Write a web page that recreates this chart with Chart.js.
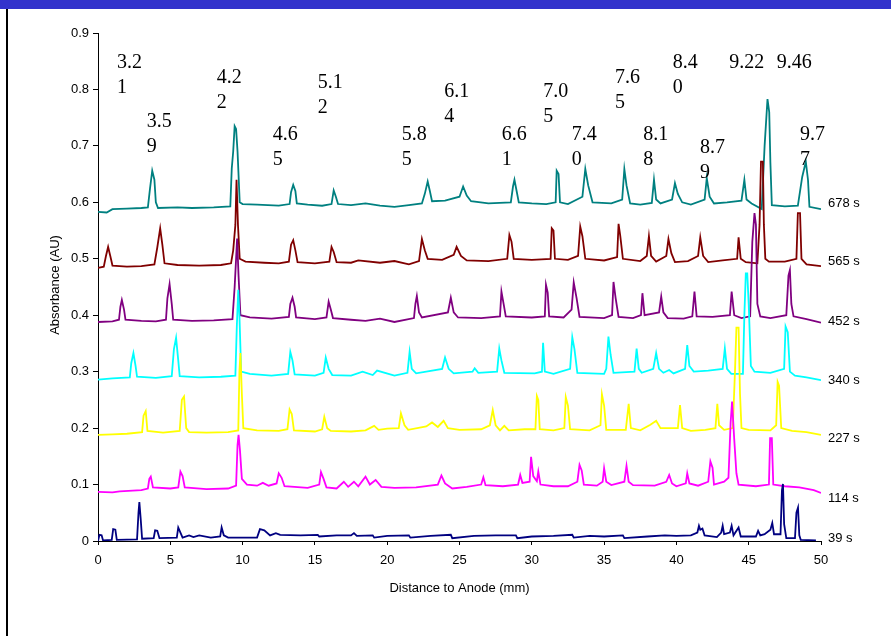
<!DOCTYPE html>
<html>
<head>
<meta charset="utf-8">
<script src="https://cdn.jsdelivr.net/npm/chart.js@4.4.1/dist/chart.umd.min.js"></script>
<style>
  html, body { margin: 0; padding: 0; background: #fff; }
  #wrap { position: relative; width: 891px; height: 636px; }
</style>
</head>
<body>
<div id="wrap"><canvas id="ief"></canvas></div>
<script>
// traces, [distance mm, absorbance AU]
const trace39 = [[0,0.000],[0.1,0.011],[0.25,0.010],[0.35,0.001],[0.95,0.002],[1.05,0.021],[1.2,0.020],[1.3,0.002],[2.7,0.003],[2.8,0.050],[2.86,0.069],[2.95,0.040],[3.05,0.004],[3.85,0.005],[3.95,0.019],[4.1,0.018],[4.25,0.005],[5.45,0.006],[5.55,0.024],[5.7,0.015],[5.85,0.006],[6.3,0.010],[6.6,0.007],[7.0,0.010],[7.8,0.006],[8.45,0.008],[8.55,0.024],[8.7,0.010],[9.0,0.006],[11.0,0.006],[11.2,0.021],[11.5,0.019],[11.9,0.010],[12.3,0.014],[12.6,0.011],[14,0.010],[15.2,0.011],[15.3,0.008],[16.5,0.010],[17.5,0.010],[17.7,0.014],[17.9,0.009],[19.0,0.010],[19.1,0.006],[20,0.009],[21.5,0.010],[21.6,0.006],[23,0.009],[24.4,0.011],[24.5,0.005],[26,0.009],[27.5,0.010],[28.9,0.010],[29.0,0.005],[30,0.008],[31.5,0.009],[32.8,0.011],[32.9,0.006],[34,0.009],[35,0.008],[36.3,0.010],[36.4,0.005],[38,0.008],[39.2,0.010],[40,0.009],[41.0,0.010],[41.45,0.015],[41.56,0.027],[41.65,0.020],[41.8,0.022],[41.95,0.010],[42.8,0.007],[43.1,0.015],[43.2,0.027],[43.3,0.012],[43.7,0.015],[43.82,0.027],[43.95,0.010],[44.3,0.024],[44.45,0.008],[45.5,0.008],[45.65,0.018],[45.8,0.010],[46.1,0.012],[46.5,0.020],[46.63,0.032],[46.75,0.012],[47.2,0.012],[47.3,0.090],[47.37,0.101],[47.45,0.030],[47.6,0.005],[48.2,0.005],[48.3,0.050],[48.41,0.059],[48.5,0.010],[48.6,0.002],[49.65,0.001]];

const trace114 = [[0,0.087],[1.0,0.086],[1.5,0.088],[3.0,0.090],[3.45,0.093],[3.55,0.110],[3.65,0.114],[3.8,0.095],[5.0,0.093],[5.55,0.095],[5.7,0.123],[5.85,0.115],[6.0,0.095],[7.5,0.092],[9.0,0.093],[9.55,0.098],[9.65,0.170],[9.72,0.188],[9.82,0.160],[9.95,0.110],[10.3,0.100],[11.0,0.098],[11.4,0.103],[11.8,0.098],[12.35,0.102],[12.5,0.120],[12.7,0.112],[12.9,0.097],[14.5,0.094],[15.3,0.100],[15.42,0.122],[15.6,0.110],[15.8,0.095],[16.5,0.093],[17.0,0.105],[17.3,0.096],[17.7,0.105],[18.0,0.097],[18.5,0.114],[18.8,0.100],[19.2,0.108],[19.6,0.096],[20.5,0.094],[22.0,0.095],[23.5,0.100],[23.75,0.116],[24.0,0.102],[24.5,0.093],[25.5,0.096],[26.5,0.100],[26.65,0.113],[26.8,0.099],[28.0,0.097],[29.05,0.100],[29.2,0.117],[29.35,0.103],[29.85,0.105],[29.95,0.149],[30.1,0.115],[30.35,0.106],[30.45,0.123],[30.6,0.100],[31.5,0.097],[32.5,0.097],[33.15,0.105],[33.3,0.135],[33.45,0.125],[33.6,0.100],[34.5,0.098],[34.9,0.105],[35.0,0.129],[35.15,0.105],[35.5,0.099],[36.4,0.105],[36.55,0.133],[36.7,0.105],[37.0,0.099],[38.5,0.098],[39.3,0.105],[39.5,0.117],[39.7,0.102],[40.0,0.097],[40.65,0.102],[40.75,0.120],[40.9,0.102],[41.5,0.098],[42.2,0.105],[42.35,0.141],[42.5,0.130],[42.6,0.100],[43.3,0.105],[43.6,0.112],[43.75,0.210],[43.85,0.247],[44.0,0.180],[44.15,0.120],[44.3,0.100],[45.5,0.097],[46.4,0.100],[46.48,0.182],[46.6,0.182],[46.7,0.100],[47.5,0.097],[48.5,0.095],[49.5,0.090],[50,0.085]];

const trace227 = [[0,0.188],[1.0,0.189],[2.0,0.190],[3.05,0.193],[3.15,0.222],[3.3,0.230],[3.42,0.195],[4.5,0.192],[5.65,0.195],[5.8,0.250],[5.95,0.256],[6.1,0.200],[6.3,0.193],[7.5,0.192],[9.0,0.193],[9.7,0.196],[9.78,0.300],[9.85,0.333],[9.95,0.260],[10.05,0.200],[11,0.196],[12.5,0.195],[13.1,0.198],[13.25,0.233],[13.4,0.225],[13.55,0.196],[15.0,0.194],[15.5,0.198],[15.65,0.220],[15.85,0.200],[16.1,0.195],[17.5,0.194],[18.5,0.196],[19.1,0.204],[19.4,0.197],[20.0,0.199],[20.8,0.200],[20.95,0.226],[21.2,0.205],[21.45,0.197],[22.7,0.203],[23.1,0.210],[23.5,0.202],[23.9,0.213],[24.2,0.200],[25.0,0.197],[26.5,0.198],[27.1,0.205],[27.3,0.232],[27.5,0.205],[27.8,0.196],[28.1,0.204],[28.4,0.196],[29.5,0.198],[30.25,0.198],[30.35,0.257],[30.45,0.250],[30.55,0.198],[31.5,0.196],[32.25,0.200],[32.35,0.255],[32.5,0.240],[32.65,0.198],[34.0,0.196],[34.75,0.205],[34.85,0.260],[35.0,0.240],[35.15,0.197],[36.5,0.197],[36.7,0.243],[36.85,0.200],[37.5,0.196],[38.2,0.206],[38.6,0.213],[38.9,0.200],[40.1,0.200],[40.25,0.241],[40.4,0.200],[41.0,0.195],[42.0,0.197],[42.7,0.200],[42.83,0.243],[42.95,0.205],[43.3,0.197],[43.9,0.200],[44.05,0.300],[44.15,0.378],[44.3,0.378],[44.4,0.260],[44.5,0.200],[45,0.197],[46.5,0.196],[46.9,0.205],[47.0,0.282],[47.1,0.275],[47.25,0.200],[48.0,0.195],[49.0,0.193],[50,0.188]];

const trace340 = [[0,0.286],[1.0,0.288],[2.2,0.290],[2.3,0.315],[2.45,0.333],[2.6,0.310],[2.7,0.291],[4.0,0.289],[5.1,0.292],[5.25,0.340],[5.4,0.360],[5.55,0.320],[5.65,0.292],[7.0,0.290],[8.5,0.291],[9.5,0.293],[9.6,0.380],[9.7,0.445],[9.78,0.400],[9.9,0.300],[10.5,0.296],[12.0,0.293],[13.15,0.296],[13.3,0.335],[13.45,0.320],[13.6,0.295],[15.0,0.293],[15.6,0.298],[15.75,0.325],[15.95,0.305],[16.2,0.294],[17.5,0.293],[18.3,0.300],[19.0,0.294],[19.3,0.302],[20.5,0.293],[21.4,0.298],[21.55,0.335],[21.7,0.305],[22.0,0.297],[23.8,0.305],[24.0,0.325],[24.25,0.305],[24.6,0.297],[25.9,0.300],[26.05,0.306],[26.3,0.298],[27.6,0.300],[27.75,0.341],[27.9,0.320],[28.1,0.298],[30.2,0.297],[30.7,0.300],[30.78,0.351],[30.9,0.300],[31.5,0.296],[32.65,0.305],[32.8,0.361],[32.95,0.340],[33.15,0.298],[35.0,0.296],[35.15,0.305],[35.3,0.362],[35.45,0.330],[35.65,0.298],[37.1,0.300],[37.25,0.341],[37.4,0.305],[37.6,0.298],[38.4,0.305],[38.6,0.333],[38.8,0.305],[39.1,0.298],[39.5,0.303],[39.8,0.297],[40.6,0.305],[40.75,0.347],[40.9,0.310],[41.2,0.300],[42.2,0.302],[43.2,0.305],[43.35,0.341],[43.5,0.305],[43.8,0.296],[44.6,0.296],[44.7,0.400],[44.8,0.474],[44.9,0.474],[45.0,0.420],[45.15,0.310],[45.4,0.300],[46.5,0.298],[47.45,0.305],[47.55,0.380],[47.7,0.370],[47.85,0.300],[48.2,0.293],[49.0,0.290],[50,0.285]];

const trace452 = [[0,0.388],[1.0,0.389],[1.45,0.392],[1.55,0.415],[1.65,0.427],[1.8,0.410],[1.9,0.392],[3.0,0.390],[4.0,0.389],[4.7,0.392],[4.8,0.430],[4.95,0.455],[5.1,0.420],[5.2,0.392],[6.5,0.390],[8.0,0.391],[9.3,0.393],[9.45,0.450],[9.55,0.500],[9.62,0.536],[9.72,0.470],[9.85,0.400],[10.5,0.396],[12,0.394],[13.2,0.397],[13.3,0.420],[13.45,0.431],[13.6,0.415],[13.7,0.396],[15.0,0.393],[15.8,0.396],[15.95,0.424],[16.1,0.410],[16.25,0.395],[17.5,0.392],[18.5,0.390],[19.5,0.394],[20.5,0.388],[21.85,0.395],[21.95,0.420],[22.05,0.434],[22.2,0.405],[22.4,0.396],[24.2,0.405],[24.4,0.431],[24.6,0.405],[24.9,0.396],[26.5,0.395],[27.8,0.398],[27.9,0.442],[28.05,0.420],[28.2,0.398],[30.0,0.396],[30.9,0.398],[30.98,0.454],[31.1,0.440],[31.2,0.398],[32.2,0.396],[32.75,0.410],[32.9,0.458],[33.1,0.430],[33.3,0.397],[35.0,0.395],[35.55,0.400],[35.65,0.459],[35.8,0.430],[36.0,0.397],[37.0,0.395],[37.55,0.400],[37.65,0.439],[37.8,0.400],[38.8,0.405],[38.95,0.433],[39.1,0.405],[39.4,0.395],[40.5,0.394],[41.1,0.398],[41.25,0.442],[41.4,0.398],[42.5,0.397],[43.7,0.400],[43.82,0.442],[44.0,0.400],[44.5,0.395],[45.1,0.398],[45.25,0.530],[45.4,0.581],[45.5,0.560],[45.6,0.420],[45.8,0.398],[46.5,0.395],[47.6,0.400],[47.75,0.470],[47.85,0.480],[47.95,0.420],[48.1,0.398],[49.0,0.393],[49.5,0.390],[50,0.387]];

const trace565 = [[0,0.484],[0.4,0.486],[0.55,0.505],[0.7,0.521],[0.85,0.505],[1.0,0.488],[2.0,0.486],[3.0,0.487],[3.9,0.490],[4.1,0.520],[4.3,0.554],[4.45,0.525],[4.6,0.492],[5.5,0.489],[7,0.488],[8.5,0.489],[9.2,0.492],[9.35,0.515],[9.5,0.560],[9.58,0.640],[9.68,0.560],[9.8,0.500],[10.2,0.495],[11.5,0.493],[12.5,0.492],[13.2,0.495],[13.35,0.525],[13.5,0.533],[13.65,0.515],[13.8,0.494],[15.0,0.492],[16.0,0.495],[16.15,0.521],[16.3,0.512],[16.5,0.494],[17.5,0.493],[18.0,0.497],[19.5,0.493],[20.5,0.496],[21.5,0.490],[22.2,0.496],[22.4,0.535],[22.6,0.515],[22.8,0.500],[23.8,0.498],[24.6,0.507],[24.8,0.521],[25.1,0.505],[25.5,0.497],[27,0.496],[28.3,0.500],[28.45,0.542],[28.6,0.530],[28.75,0.500],[30,0.498],[31.3,0.500],[31.38,0.554],[31.5,0.550],[31.6,0.500],[32.5,0.498],[33.2,0.505],[33.35,0.557],[33.5,0.540],[33.7,0.500],[35.0,0.497],[35.9,0.503],[36.0,0.562],[36.12,0.540],[36.3,0.500],[37.5,0.496],[37.95,0.505],[38.1,0.540],[38.25,0.505],[38.6,0.495],[39.3,0.505],[39.45,0.535],[39.65,0.510],[39.9,0.494],[40.8,0.496],[41.5,0.505],[41.65,0.538],[41.85,0.505],[42.2,0.494],[43.2,0.497],[44.2,0.500],[44.3,0.538],[44.45,0.500],[44.8,0.494],[45.6,0.492],[45.75,0.560],[45.85,0.672],[45.98,0.672],[46.05,0.560],[46.15,0.500],[46.4,0.495],[47.5,0.495],[48.3,0.500],[48.4,0.581],[48.55,0.581],[48.65,0.500],[49.0,0.490],[50,0.487]];

const trace678 = [[0,0.583],[0.6,0.582],[1.0,0.588],[2.0,0.589],[3.0,0.590],[3.45,0.591],[3.6,0.625],[3.75,0.656],[3.9,0.640],[4.0,0.600],[4.15,0.590],[5.5,0.591],[6.5,0.590],[8.0,0.591],[9.15,0.593],[9.25,0.660],[9.35,0.690],[9.45,0.735],[9.55,0.730],[9.65,0.690],[9.8,0.600],[10.0,0.597],[11,0.596],[12.5,0.594],[13.25,0.597],[13.35,0.618],[13.5,0.631],[13.65,0.620],[13.75,0.598],[14.5,0.596],[15.5,0.594],[16.15,0.597],[16.3,0.621],[16.45,0.610],[16.6,0.597],[17.5,0.595],[18.5,0.598],[19.5,0.594],[20.5,0.592],[21.5,0.595],[22.4,0.598],[22.6,0.615],[22.8,0.637],[22.95,0.620],[23.1,0.602],[24.0,0.603],[25.0,0.610],[25.25,0.628],[25.5,0.612],[25.8,0.602],[27,0.598],[28.55,0.600],[28.7,0.628],[28.8,0.640],[28.95,0.620],[29.1,0.600],[30,0.598],[31.0,0.597],[31.65,0.600],[31.72,0.656],[31.85,0.650],[31.95,0.600],[32.5,0.597],[33.5,0.610],[33.7,0.659],[33.9,0.630],[34.2,0.600],[35.5,0.598],[36.25,0.605],[36.4,0.659],[36.55,0.630],[36.8,0.598],[37.5,0.596],[38.3,0.599],[38.45,0.640],[38.6,0.605],[38.9,0.598],[39.7,0.605],[39.9,0.634],[40.1,0.615],[40.4,0.600],[41.0,0.596],[41.95,0.605],[42.1,0.643],[42.3,0.610],[42.6,0.598],[43.5,0.600],[44.5,0.603],[44.7,0.640],[44.85,0.605],[45.2,0.598],[45.9,0.588],[46.1,0.700],[46.3,0.783],[46.42,0.760],[46.5,0.670],[46.6,0.595],[47.5,0.593],[48.4,0.594],[48.7,0.645],[48.95,0.672],[49.1,0.640],[49.2,0.592],[50,0.588]];

// series, drawn bottom trace on top
const seriesNames  = ['39 s', '114 s', '227 s', '340 s', '452 s', '565 s', '678 s'];
const seriesTraces = [trace39, trace114, trace227, trace340, trace452, trace565, trace678];
const seriesColors = ['#000080', '#ff00ff', '#ffff00', '#00ffff', '#800080', '#800000', '#008080'];
const seriesLabelY = [0.005, 0.075, 0.182, 0.285, 0.389, 0.495, 0.598];

// pI marker labels: text lines, x (mm) and baseline (AU) of first line
const pIText = [['3.2','1'],['3.5','9'],['4.2','2'],['4.6','5'],['5.1','2'],['5.8','5'],['6.1','4'],['6.6','1'],['7.0','5'],['7.4','0'],['7.6','5'],['8.1','8'],['8.4','0'],['8.7','9'],['9.22'],['9.46'],['9.7','7']];
const pIX = [1.31, 3.37, 8.21, 12.08, 15.19, 21.0, 23.95, 27.92, 30.8, 32.76, 35.75, 37.71, 39.74, 41.63, 43.66, 46.94, 48.55];
const pIY = [0.838, 0.733, 0.811, 0.710, 0.802, 0.710, 0.786, 0.710, 0.786, 0.710, 0.811, 0.710, 0.838, 0.687, 0.838, 0.838, 0.710];

const sans = "'Liberation Sans', Arial, sans-serif";

// frame + labels drawn round the chart
const decorations = {
    id: 'decorations',
    beforeDraw(chart) {
        const ctx = chart.ctx;
        ctx.save();
        ctx.fillStyle = '#fff';
        ctx.fillRect(0, 0, chart.width, chart.height);
        ctx.fillStyle = '#3333cc';
        ctx.fillRect(0, 0, chart.width, 9);
        ctx.fillStyle = '#000';
        ctx.fillRect(6, 9, 2, chart.height - 9);
        ctx.restore();
    },
    afterDatasetsDraw(chart) {
        const ctx = chart.ctx;
        const xs = chart.scales.x, ys = chart.scales.y;
        const area = chart.chartArea;
        ctx.save();

        // series names at right end
        ctx.font = '13px ' + sans;
        ctx.fillStyle = '#000';
        ctx.textAlign = 'left';
        ctx.textBaseline = 'middle';
        seriesNames.forEach((n, i) => {
            ctx.fillText(n, area.right + 7, ys.getPixelForValue(seriesLabelY[i]));
        });

        // pI values
        ctx.font = "20px 'Liberation Serif', 'Times New Roman', serif";
        ctx.textBaseline = 'alphabetic';
        pIText.forEach((lines, i) => {
            const px = xs.getPixelForValue(pIX[i]);
            const py = ys.getPixelForValue(pIY[i]);
            lines.forEach((t, k) => ctx.fillText(t, px, py + k * 25));
        });

        // axis titles
        ctx.font = '13px ' + sans;
        ctx.textAlign = 'center';
        ctx.textBaseline = 'middle';
        ctx.fillText('Distance to Anode (mm)', (area.left + area.right) / 2, 588);
        ctx.translate(55, 285);
        ctx.rotate(-Math.PI / 2);
        ctx.fillText('Absorbance (AU)', 0, 0);
        ctx.restore();
    }
};

new Chart(document.getElementById('ief'), {
    type: 'line',
    data: {
        datasets: seriesTraces.map((t, i) => ({
            label: seriesNames[i],
            data: t.map(p => ({ x: p[0], y: p[1] })),
            borderColor: seriesColors[i],
            borderWidth: 1.8,
            pointRadius: 0,
            tension: 0,
            fill: false
        }))
    },
    options: {
        responsive: true,
        maintainAspectRatio: false,
        animation: false,
        layout: { padding: { left: 0, right: 70, top: 33, bottom: 0 } },
        plugins: {
            legend: { display: false },
            tooltip: { enabled: false }
        },
        scales: {
            x: {
                type: 'linear',
                min: 0,
                max: 50,
                afterFit: s => { s.height = 95; },
                border: { color: '#000', width: 1 },
                grid: { drawOnChartArea: false, color: '#000', tickLength: 4 },
                ticks: { stepSize: 5, color: '#000', font: { family: sans, size: 13 }, padding: 8, maxRotation: 0 }
            },
            y: {
                min: 0,
                max: 0.9,
                afterFit: s => { s.width = 98; },
                border: { color: '#000', width: 1 },
                grid: { drawOnChartArea: false, color: '#000', tickLength: 5 },
                ticks: {
                    stepSize: 0.1,
                    color: '#000',
                    font: { family: sans, size: 13 },
                    padding: 4,
                    callback: v => v === 0 ? '0' : (Math.round(v * 10) / 10).toFixed(1)
                }
            }
        }
    },
    plugins: [decorations]
});
</script>
</body>
</html>
